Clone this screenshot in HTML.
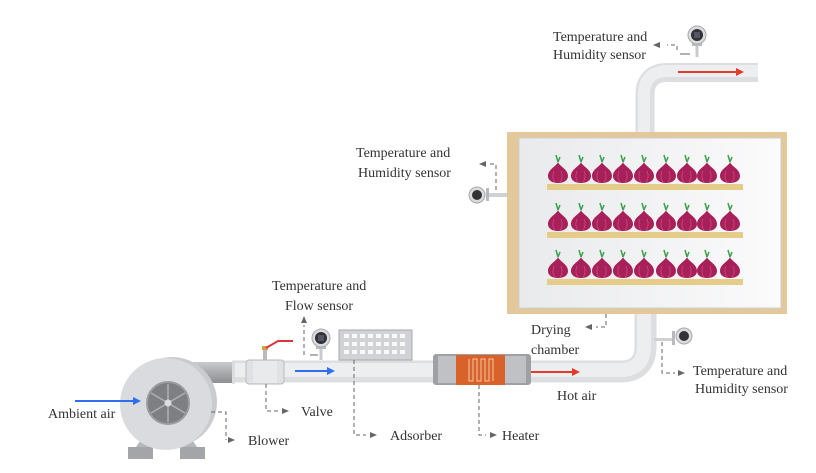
<!DOCTYPE html>
<html><head><meta charset="utf-8"><style>
html,body{margin:0;padding:0;background:#fff;}
svg{display:block;}
text{font-family:"Liberation Serif",serif;font-size:14px;fill:#333;}
</style></head><body>
<svg width="816" height="473" viewBox="0 0 816 473" xmlns="http://www.w3.org/2000/svg">
<defs>
<linearGradient id="darkH" x1="0" y1="0" x2="0" y2="1">
<stop offset="0" stop-color="#c9cacc"/><stop offset="0.5" stop-color="#a9abae"/><stop offset="1" stop-color="#8d8f92"/></linearGradient>
<linearGradient id="cham" x1="0" y1="0" x2="1" y2="0">
<stop offset="0" stop-color="#e9eaec"/><stop offset="1" stop-color="#fbfbfc"/></linearGradient>
<marker id="ah" markerWidth="8" markerHeight="8" refX="6" refY="4" orient="auto"><path d="M0,1 L7,4 L0,7 Z" fill="#666"/></marker>
<g id="onion">
<path d="M0,-12 C1,-8 10,-5 10,2 C10,7 5,9 0,9 C-5,9 -10,7 -10,2 C-10,-5 -1,-8 0,-12 Z" fill="#a8205a"/>
<path d="M-4,-3 C-6,2 -5,6 -3,8 M3,-3 C5,2 4,6 2,8" stroke="#c94a80" stroke-width="0.8" fill="none"/>
<path d="M0,-12 L-2,-19 M0,-12 L2,-17" stroke="#3aa24a" stroke-width="1.5" fill="none"/>
</g>
<g id="sensor">
<rect x="-1.5" y="8" width="3" height="14" fill="#c8cacd"/>
<rect x="-5" y="8" width="10" height="3" fill="#b8babd"/>
<circle r="9" fill="#d9dbde" stroke="#aaa" stroke-width="1"/>
<circle r="6" fill="#333"/>
<rect x="-3" y="-3" width="6" height="6" fill="#556"/>
</g>
</defs>

<!-- top pipe -->
<path d="M645,133 L645,95 Q645,72.5 668,72.5 L758,72.5" stroke="#dcdee1" stroke-width="19" fill="none"/>
<path d="M644,133 L644,95 Q644,71 668,71 L758,71" stroke="#edeef0" stroke-width="12" fill="none"/>
<line x1="678" y1="72" x2="738" y2="72" stroke="#e53b2c" stroke-width="2"/>
<path d="M736,68 L744,72 L736,76 Z" fill="#e53b2c"/>
<use href="#sensor" x="697" y="35"/>
<path d="M680,54 L690,54" stroke="#666"/>
<path d="M677,50 L677,45 L667,45" stroke="#666" stroke-dasharray="4,3" fill="none"/>
<path d="M660,45 L654,45" stroke="#666" marker-end="url(#ah)"/>
<text x="553" y="41">Temperature and</text>
<text x="553" y="59">Humidity sensor</text>

<!-- chamber -->
<rect x="507" y="132" width="280" height="182" fill="#e3c89c"/>
<rect x="519" y="138" width="262" height="170" fill="url(#cham)" stroke="#cfcfcf"/>
<g>
<rect x="547" y="184" width="196" height="6" fill="#e6cc8a"/>
<rect x="547" y="232" width="196" height="6" fill="#e6cc8a"/>
<rect x="547" y="279" width="196" height="6" fill="#e6cc8a"/>
</g>
<g id="row">
<use href="#onion" x="558" y="174"/><use href="#onion" x="581" y="174"/><use href="#onion" x="602" y="174"/>
<use href="#onion" x="623" y="174"/><use href="#onion" x="644" y="174"/><use href="#onion" x="666" y="174"/>
<use href="#onion" x="687" y="174"/><use href="#onion" x="707" y="174"/><use href="#onion" x="730" y="174"/>
</g>
<use href="#row" y="48"/>
<use href="#row" y="95"/>

<!-- chamber side sensor -->
<rect x="487" y="193" width="20" height="4" fill="#cfd1d4"/>
<rect x="486" y="188" width="3" height="13" fill="#b8babd"/>
<circle cx="477" cy="195" r="8" fill="#d9dbde" stroke="#aaa"/>
<circle cx="477" cy="195" r="5" fill="#333"/>
<path d="M496,190 L496,164 L490,164" stroke="#666" stroke-dasharray="4,3" fill="none"/>
<path d="M486,164 L480,164" stroke="#666" marker-end="url(#ah)"/>
<text x="356" y="157">Temperature and</text>
<text x="358" y="177">Humidity sensor</text>

<!-- bottom pipe with bend -->
<path d="M232,371.5 L620,371.5 Q645.5,371.5 645.5,346 L645.5,314" stroke="#dcdee1" stroke-width="22" fill="none"/>
<path d="M232,370 L620,370 Q644,370 644,346 L644,314" stroke="#edeef0" stroke-width="14" fill="none"/>
<line x1="518" y1="372" x2="575" y2="372" stroke="#e53b2c" stroke-width="2"/>
<path d="M572,368 L580,372 L572,376 Z" fill="#e53b2c"/>
<text x="557" y="400">Hot air</text>

<!-- drying chamber label -->
<path d="M606,314 L606,327 L596,327" stroke="#666" stroke-dasharray="4,3" fill="none"/>
<path d="M592,327 L586,327" stroke="#666" marker-end="url(#ah)"/>
<text x="531" y="334">Drying</text>
<text x="531" y="354">chamber</text>

<!-- right lower sensor -->
<rect x="654" y="338" width="20" height="3" fill="#cfd1d4"/>
<rect x="672" y="331" width="3" height="14" fill="#b8babd"/>
<circle cx="684" cy="336" r="8" fill="#d9dbde" stroke="#aaa"/>
<circle cx="684" cy="336" r="5" fill="#333"/>
<path d="M662,342 L662,373 L675,373" stroke="#666" stroke-dasharray="4,3" fill="none"/>
<path d="M678,373 L684,373" stroke="#666" marker-end="url(#ah)"/>
<text x="693" y="375">Temperature and</text>
<text x="695" y="393">Humidity sensor</text>

<!-- heater -->
<rect x="433" y="354" width="98" height="31" rx="3" fill="#9ea0a3"/>
<rect x="438" y="356" width="88" height="27" fill="#bfc1c4"/>
<rect x="456" y="355" width="49" height="30" fill="#d9612a"/>
<path d="M469,359 L469,381 L473,381 L473,359 L477,359 L477,381 L481,381 L481,359 L485,359 L485,381 L489,381 L489,359 L493,359 L493,381" stroke="#f1c9a5" stroke-width="1" fill="none"/>
<path d="M479,385 L479,435 L486,435" stroke="#666" stroke-dasharray="4,3" fill="none"/>
<path d="M490,435 L496,435" stroke="#666" marker-end="url(#ah)"/>
<text x="502" y="440">Heater</text>

<!-- adsorber -->
<rect x="339" y="330" width="73" height="30" fill="#d0d2d5" stroke="#aaa"/>
<g fill="#fafafa">
<rect x="344" y="334" width="5" height="4"/><rect x="352" y="334" width="5" height="4"/><rect x="360" y="334" width="5" height="4"/><rect x="368" y="334" width="5" height="4"/><rect x="376" y="334" width="5" height="4"/><rect x="384" y="334" width="5" height="4"/><rect x="392" y="334" width="5" height="4"/><rect x="400" y="334" width="5" height="4"/>
<rect x="344" y="342" width="5" height="4"/><rect x="352" y="342" width="5" height="4"/><rect x="360" y="342" width="5" height="4"/><rect x="368" y="342" width="5" height="4"/><rect x="376" y="342" width="5" height="4"/><rect x="384" y="342" width="5" height="4"/><rect x="392" y="342" width="5" height="4"/><rect x="400" y="342" width="5" height="4"/>
<rect x="344" y="350" width="5" height="4"/><rect x="352" y="350" width="5" height="4"/><rect x="360" y="350" width="5" height="4"/><rect x="368" y="350" width="5" height="4"/><rect x="376" y="350" width="5" height="4"/><rect x="384" y="350" width="5" height="4"/><rect x="392" y="350" width="5" height="4"/><rect x="400" y="350" width="5" height="4"/>
</g>
<path d="M354,360 L354,435 L366,435" stroke="#666" stroke-dasharray="4,3" fill="none"/>
<path d="M370,435 L376,435" stroke="#666" marker-end="url(#ah)"/>
<text x="390" y="440">Adsorber</text>

<!-- flow arrow -->
<line x1="295" y1="371" x2="330" y2="371" stroke="#2f6ef0" stroke-width="2"/>
<path d="M327,367 L335,371 L327,375 Z" fill="#2f6ef0"/>

<!-- flow sensor -->
<use href="#sensor" x="321" y="338"/>
<path d="M310,355 L318,355" stroke="#666"/>
<path d="M304,355 L304,325" stroke="#666" stroke-dasharray="4,3"/>
<path d="M304,322 L304,317" stroke="#666" marker-end="url(#ah)"/>
<text x="272" y="290">Temperature and</text>
<text x="285" y="310">Flow sensor</text>

<!-- dark outlet pipe -->
<rect x="190" y="362" width="44" height="21" fill="url(#darkH)"/>
<rect x="232" y="361" width="3" height="23" fill="#dcdde0"/>

<!-- valve -->
<rect x="246" y="360" width="38" height="24" rx="3" fill="#dfe1e4" stroke="#bbb"/>
<rect x="253" y="361" width="24" height="22" fill="#e9eaec"/>
<rect x="263" y="350" width="4" height="10" fill="#bbb"/>
<rect x="262" y="346" width="6" height="4" fill="#d4a446"/>
<path d="M266,348 L278,341 L293,341" stroke="#d9363e" stroke-width="2" fill="none"/>
<path d="M266,384 L266,411 L278,411" stroke="#666" stroke-dasharray="4,3" fill="none"/>
<path d="M282,411 L288,411" stroke="#666" marker-end="url(#ah)"/>
<text x="301" y="416">Valve</text>

<!-- blower -->
<rect x="128" y="447" width="25" height="12" fill="#a3a5a8"/>
<rect x="180" y="447" width="25" height="12" fill="#a3a5a8"/>
<path d="M136,447 L146,432 L152,447 Z" fill="#b5b7ba"/>
<path d="M197,447 L187,432 L181,447 Z" fill="#b5b7ba"/>
<circle cx="172" cy="402" r="45" fill="#c9cbce"/>
<circle cx="166" cy="404" r="46" fill="#d9dbde"/>
<circle cx="168" cy="403" r="21" fill="#7d7f83" stroke="#9a9c9f" stroke-width="2"/>
<g stroke="#aeb0b3" stroke-width="1.5">
<line x1="168" y1="384" x2="168" y2="422"/><line x1="151" y1="393" x2="185" y2="413"/><line x1="151" y1="413" x2="185" y2="393"/>
</g>
<circle cx="168" cy="403" r="3.5" fill="#ddd"/>
<path d="M211,412 L226,412 L226,440" stroke="#666" stroke-dasharray="4,3" fill="none"/>
<path d="M228,440 L234,440" stroke="#666" marker-end="url(#ah)"/>
<text x="248" y="445">Blower</text>

<!-- ambient air -->
<line x1="75" y1="401" x2="136" y2="401" stroke="#2f6ef0" stroke-width="2"/>
<path d="M133,397 L141,401 L133,405 Z" fill="#2f6ef0"/>
<text x="48" y="418">Ambient air</text>
</svg>
</body></html>
